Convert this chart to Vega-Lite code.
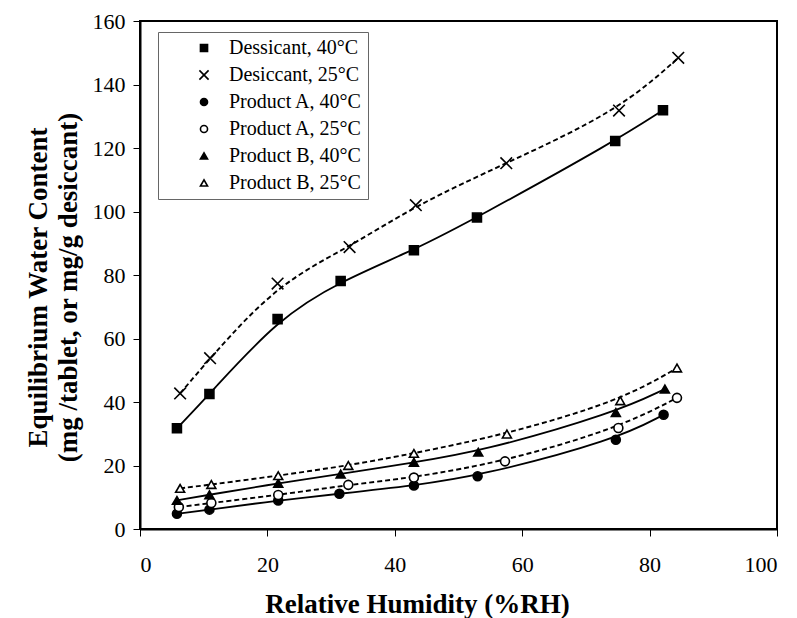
{
  "$schema": "https://vega.github.io/schema/vega-lite/v6.json",
  "width": 637,
  "height": 508,
  "autosize": {"type": "none"},
  "padding": {"left": 140, "top": 21, "right": 20, "bottom": 89},
  "background": "white",
  "config": {
    "font": "Liberation Serif",
    "view": {"stroke": "black", "strokeWidth": 2},
    "axis": {
      "grid": false,
      "domainColor": "black",
      "domainWidth": 2,
      "tickColor": "black",
      "tickWidth": 1,
      "tickSize": 7,
      "labelColor": "black",
      "labelFont": "Liberation Serif",
      "labelFontSize": 22,
      "titleFont": "Liberation Serif",
      "titleFontWeight": "bold",
      "titleFontSize": 27,
      "titleColor": "black"
    },
    "legend": {
      "orient": "none",
      "legendX": 18,
      "legendY": 11,
      "strokeColor": "#666",
      "fillColor": "white",
      "padding": 6,
      "symbolOffset": 30,
      "labelOffset": 15,
      "rowPadding": 7,
      "symbolSize": 50,
      "symbolStrokeWidth": 1.6,
      "labelFont": "Liberation Serif",
      "labelFontSize": 20,
      "labelColor": "black",
      "labelLimit": 300
    }
  },
  "data": {
    "values": [
      {"series": "Dessicant, 40°C", "rh": 5.8, "w": 31.7},
      {"series": "Dessicant, 40°C", "rh": 10.9, "w": 42.5},
      {"series": "Dessicant, 40°C", "rh": 21.6, "w": 66.1},
      {"series": "Dessicant, 40°C", "rh": 31.5, "w": 78.1},
      {"series": "Dessicant, 40°C", "rh": 43.0, "w": 87.8},
      {"series": "Dessicant, 40°C", "rh": 52.9, "w": 98.1},
      {"series": "Dessicant, 40°C", "rh": 74.6, "w": 122.2},
      {"series": "Dessicant, 40°C", "rh": 82.1, "w": 131.9},
      {"series": "Desiccant, 25°C", "rh": 6.3, "w": 42.7},
      {"series": "Desiccant, 25°C", "rh": 11.0, "w": 53.8},
      {"series": "Desiccant, 25°C", "rh": 21.6, "w": 77.3},
      {"series": "Desiccant, 25°C", "rh": 32.9, "w": 88.8},
      {"series": "Desiccant, 25°C", "rh": 43.3, "w": 102.0},
      {"series": "Desiccant, 25°C", "rh": 57.5, "w": 115.2},
      {"series": "Desiccant, 25°C", "rh": 75.2, "w": 131.8},
      {"series": "Desiccant, 25°C", "rh": 84.5, "w": 148.4},
      {"series": "Product A, 40°C", "rh": 5.8, "w": 4.8},
      {"series": "Product A, 40°C", "rh": 10.9, "w": 6.1},
      {"series": "Product A, 40°C", "rh": 21.7, "w": 9.0},
      {"series": "Product A, 40°C", "rh": 31.3, "w": 11.1},
      {"series": "Product A, 40°C", "rh": 43.0, "w": 13.7},
      {"series": "Product A, 40°C", "rh": 53.0, "w": 16.6},
      {"series": "Product A, 40°C", "rh": 74.7, "w": 28.1},
      {"series": "Product A, 40°C", "rh": 82.2, "w": 36.0},
      {"series": "Product A, 25°C", "rh": 6.1, "w": 6.9},
      {"series": "Product A, 25°C", "rh": 11.2, "w": 8.2},
      {"series": "Product A, 25°C", "rh": 21.7, "w": 10.7},
      {"series": "Product A, 25°C", "rh": 32.7, "w": 13.9},
      {"series": "Product A, 25°C", "rh": 43.0, "w": 16.2},
      {"series": "Product A, 25°C", "rh": 57.3, "w": 21.3},
      {"series": "Product A, 25°C", "rh": 75.1, "w": 31.8},
      {"series": "Product A, 25°C", "rh": 84.3, "w": 41.3},
      {"series": "Product B, 40°C", "rh": 5.8, "w": 9.0},
      {"series": "Product B, 40°C", "rh": 10.9, "w": 10.8},
      {"series": "Product B, 40°C", "rh": 21.7, "w": 14.4},
      {"series": "Product B, 40°C", "rh": 31.5, "w": 17.3},
      {"series": "Product B, 40°C", "rh": 43.0, "w": 21.0},
      {"series": "Product B, 40°C", "rh": 53.1, "w": 24.2},
      {"series": "Product B, 40°C", "rh": 74.7, "w": 36.7},
      {"series": "Product B, 40°C", "rh": 82.4, "w": 44.1},
      {"series": "Product B, 25°C", "rh": 6.3, "w": 12.8},
      {"series": "Product B, 25°C", "rh": 11.2, "w": 14.0},
      {"series": "Product B, 25°C", "rh": 21.7, "w": 16.8},
      {"series": "Product B, 25°C", "rh": 32.7, "w": 20.0},
      {"series": "Product B, 25°C", "rh": 43.0, "w": 23.8},
      {"series": "Product B, 25°C", "rh": 57.6, "w": 29.9},
      {"series": "Product B, 25°C", "rh": 75.4, "w": 40.4},
      {"series": "Product B, 25°C", "rh": 84.3, "w": 50.7}
    ]
  },
  "encoding": {
    "x": {
      "field": "rh", "type": "quantitative",
      "scale": {"domain": [0, 100], "nice": false, "zero": false},
      "axis": {"values": [0, 20, 40, 60, 80, 100], "title": "Relative Humidity (%RH)", "labelPadding": 18, "titleX": 277, "titleY": 62, "titleBaseline": "top"}
    },
    "y": {
      "field": "w", "type": "quantitative",
      "scale": {"domain": [0, 160], "nice": false},
      "axis": {"values": [0, 20, 40, 60, 80, 100, 120, 140, 160], "title": ["Equilibrium Water Content", "(mg /tablet, or mg/g desiccant)"], "labelPadding": 8, "titleX": -88, "titleY": 266, "titleBaseline": "bottom", "titleLineHeight": 30, "titleAngle": -90}
    }
  },
  "layer": [
    {
      "transform": [{"filter": {"field": "series", "oneOf": ["Dessicant, 40°C", "Product A, 40°C", "Product B, 40°C"]}}],
      "mark": {"type": "line", "interpolate": "basis", "strokeWidth": 1.8, "color": "black"},
      "encoding": {"detail": {"field": "series"}}
    },
    {
      "transform": [{"filter": {"field": "series", "oneOf": ["Desiccant, 25°C", "Product A, 25°C", "Product B, 25°C"]}}],
      "mark": {"type": "line", "interpolate": "basis", "strokeWidth": 1.9, "color": "black", "strokeDash": [5, 3]},
      "encoding": {"detail": {"field": "series"}}
    },
    {
      "mark": {"type": "point", "filled": false, "size": 80, "strokeWidth": 1.6, "opacity": 1},
      "encoding": {
        "shape": {
          "field": "series", "type": "nominal",
          "scale": {
            "domain": ["Dessicant, 40°C", "Desiccant, 25°C", "Product A, 40°C", "Product A, 25°C", "Product B, 40°C", "Product B, 25°C"],
            "range": ["square", "M-1.3,-1.3L1.3,1.3M-1.3,1.3L1.3,-1.3", "circle", "circle", "triangle-up", "triangle-up"]
          },
          "legend": {"title": null}
        },
        "fill": {
          "field": "series", "type": "nominal",
          "scale": {
            "domain": ["Dessicant, 40°C", "Desiccant, 25°C", "Product A, 40°C", "Product A, 25°C", "Product B, 40°C", "Product B, 25°C"],
            "range": ["black", "white", "black", "white", "black", "white"]
          },
          "legend": {"title": null}
        },
        "stroke": {
          "field": "series", "type": "nominal",
          "scale": {
            "domain": ["Dessicant, 40°C", "Desiccant, 25°C", "Product A, 40°C", "Product A, 25°C", "Product B, 40°C", "Product B, 25°C"],
            "range": ["black", "black", "black", "black", "black", "black"]
          },
          "legend": {"title": null}
        }
      }
    }
  ]
}
